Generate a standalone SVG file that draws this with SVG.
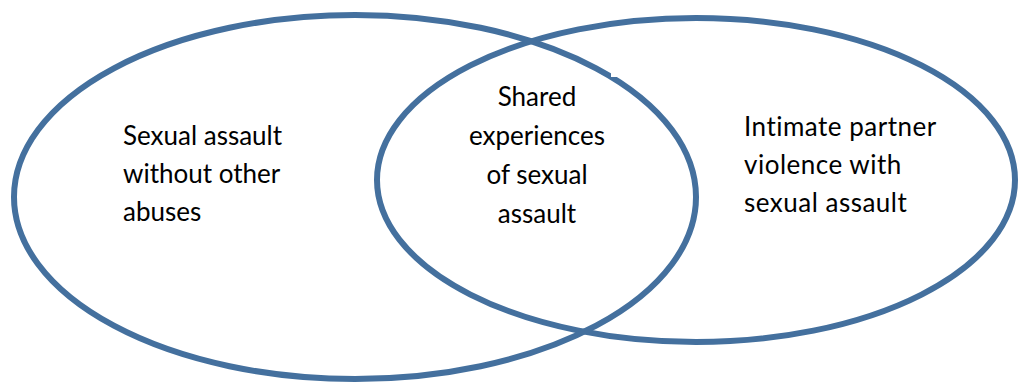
<svg xmlns="http://www.w3.org/2000/svg" width="1018" height="383" viewBox="0 0 1018 383">
  <style>
    .set { fill: none; stroke: #44709e; stroke-width: 6; }
    .label { font-family: Lato, "Liberation Sans", sans-serif; font-size: 26px; fill: #000; }
    .mid { text-anchor: middle; }
    .wide { letter-spacing: 0.5px; }
  </style>
  <rect width="1018" height="383" fill="#fff"/>
  <g id="connectors"></g>
  <g id="set-right">
    <ellipse class="set" cx="696" cy="180" rx="319" ry="162"/>
    <text class="label wide" x="744" y="136">Intimate partner</text>
    <text class="label wide" x="744" y="174">violence with</text>
    <text class="label wide" x="744" y="212">sexual assault</text>
  </g>
  <g id="set-left">
    <ellipse class="set" cx="355" cy="197" rx="341" ry="182"/>
    <!-- small notch in the outline -->
    <rect x="611" y="60" width="22" height="17" fill="#fff"/>
    <text class="label" x="123" y="145">Sexual assault</text>
    <text class="label" x="123" y="183">without other</text>
    <text class="label" x="123" y="221">abuses</text>
  </g>
  <g id="overlap">
    <text class="label mid" x="537" y="106">Shared</text>
    <text class="label mid" x="537" y="145">experiences</text>
    <text class="label mid" x="537" y="184">of sexual</text>
    <text class="label mid" x="537" y="223">assault</text>
  </g>
</svg>
